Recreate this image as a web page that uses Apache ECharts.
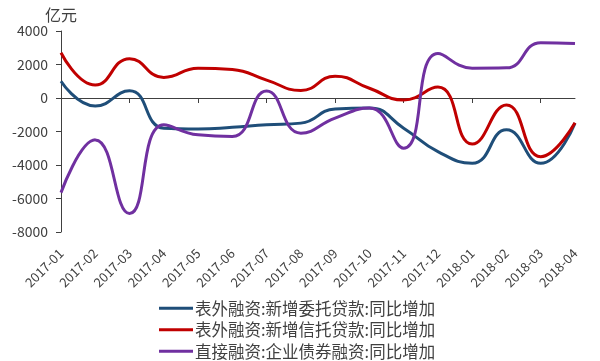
<!DOCTYPE html>
<html><head><meta charset="utf-8">
<script src="https://cdn.jsdelivr.net/npm/echarts@6/dist/echarts.min.js"></script>
<style>html,body{margin:0;padding:0;background:#fff}#c{width:600px;height:361px}</style>
</head><body><div id="c"></div>
<script>
const categories = ["2017-01","2017-02","2017-03","2017-04","2017-05","2017-06","2017-07","2017-08","2017-09","2017-10","2017-11","2017-12","2018-01","2018-02","2018-03","2018-04"];
const entrustLoans = [1000,-480,430,-1800,-1850,-1750,-1600,-1500,-650,-600,-1800,-3200,-3900,-1900,-3900,-1500];
const trustLoans = [2700,770,2350,1230,1780,1700,1070,450,1300,580,-120,650,-2750,-420,-3500,-1480];
const bondFinancing = [-5650,-2500,-6900,-1600,-2200,-2300,420,-2100,-1200,-600,-3000,2650,1780,1800,3300,3250];
const seriesNames = ["表外融资:新增委托贷款:同比增加","表外融资:新增信托贷款:同比增加","直接融资:企业债券融资:同比增加"];
const colors = ["#1F4E79","#C00000","#7030A0"];
const yTicks = {min:-8000,max:4000,interval:2000};
const unitLabel = "亿元";

const font = '"Noto Sans CJK SC","Noto Sans",sans-serif';
const chart = echarts.init(document.getElementById('c'));
const mk = (name, data, color) => ({
  name, type:'line', data, smooth:0.5, symbol:'none',
  xAxisIndex:0, yAxisIndex:0,
  lineStyle:{color, width:3}, itemStyle:{color}
});
chart.setOption({
  animation:false,
  textStyle:{fontFamily:font},
  grid:{left:61,right:25,top:31,bottom:129,containLabel:false},
  legend:{
    orient:'vertical', left:159, top:300, padding:0,
    icon:'rect', itemWidth:34, itemHeight:3, itemGap:5,
    textStyle:{fontSize:16.5, color:'#404040', fontFamily:font, padding:[0,0,0,-3], lineHeight:16},
    data:seriesNames
  },
  xAxis:[
    {type:'category', data:categories, boundaryGap:false,
     axisLine:{onZero:true, lineStyle:{color:'#404040', width:1}},
     axisTick:{show:true, length:5, lineStyle:{color:'#404040'}},
     axisLabel:{show:false}, splitLine:{show:false}},
    {type:'category', data:categories, boundaryGap:false, position:'bottom',
     axisLine:{show:false, onZero:false}, axisTick:{show:false},
     axisLabel:{rotate:45, fontSize:13, color:'#404040', margin:19, fontFamily:font, interval:0},
     splitLine:{show:false}}
  ],
  yAxis:{type:'value', min:yTicks.min, max:yTicks.max, interval:yTicks.interval,
    name:unitLabel, nameLocation:'end', nameGap:8,
    nameTextStyle:{fontSize:16, color:'#404040', align:'center', fontFamily:font},
    axisLine:{show:true, lineStyle:{color:'#404040', width:1}},
    axisTick:{show:true, length:5, lineStyle:{color:'#404040'}},
    axisLabel:{fontSize:14, color:'#404040', margin:13, fontFamily:font, formatter:v=>String(v)},
    splitLine:{show:false}},
  series:[
    mk(seriesNames[0], entrustLoans, colors[0]),
    mk(seriesNames[1], trustLoans, colors[1]),
    mk(seriesNames[2], bondFinancing, colors[2])
  ]
});
</script></body></html>
